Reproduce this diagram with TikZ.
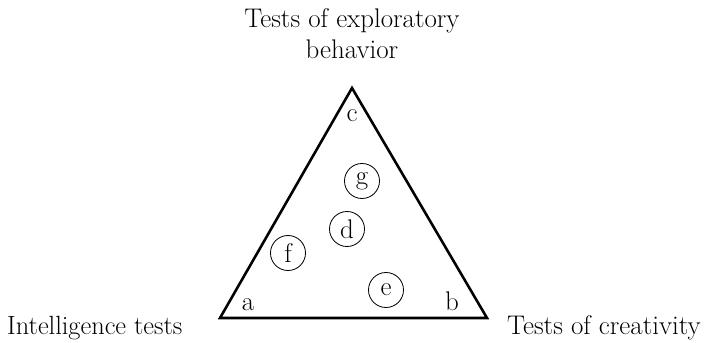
\documentclass[tikz,border=0pt]{standalone}
\usepackage{tikz}

\begin{document}
\begin{tikzpicture}[
  x=0.03cm, y=-0.03cm,
  font=\fontsize{23}{27}\selectfont,
  lbl/.style={inner sep=0pt},
  test/.style={circle, draw, line width=0.7pt, minimum size=1.05cm, inner sep=0pt},
  side/.style={line width=2.2pt, line join=miter}
]
\useasboundingbox (0,0) rectangle (704,343);
% corners of the triangle
\coordinate (va) at (220,318);
\coordinate (vb) at (487,318);
\coordinate (vc) at (352,88);
\draw[side] (va) -- (vb) -- (vc) -- cycle;
% corner letters
\node[lbl, anchor=base] (a) at (248,310) {a};
\node[lbl, anchor=base] (b) at (452,310) {b};
\node[lbl, anchor=base] (c) at (352,122) {c};
% test kinds
\node[lbl, anchor=base west, font=\fontsize{22.5}{27}\selectfont] (intel) at (7,334) {Intelligence tests};
\node[lbl, anchor=base east] (creat) at (701,334) {Tests of creativity};
\node[lbl, anchor=north, align=center] (explo) at (352,8) {Tests of exploratory\\behavior};
% circles
\node[test] (g) at (362,181) {g};
\node[test] (d) at (347,229) {d};
\node[test] (f) at (288,253) {f};
\node[test] (e) at (386,290) {e};
\end{tikzpicture}
\end{document}
